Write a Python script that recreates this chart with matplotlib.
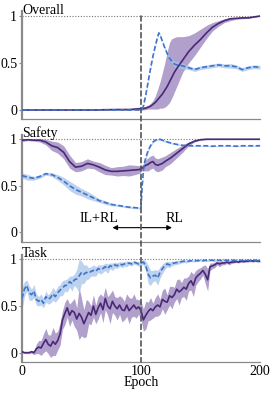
import numpy as np
import matplotlib
matplotlib.use("Agg")
import matplotlib.pyplot as plt
from matplotlib.patches import ConnectionPatch

plt.rcParams['font.family'] = ['Liberation Serif', 'DejaVu Serif']
plt.rcParams['font.size'] = 10

# ---------------- data ----------------
panel_titles = ["Overall", "Safety", "Task"]
ytick_vals = [0, 0.5, 1]
ytick_labels = ["0", "0.5", "1"]
xtick_vals = [0, 100, 200]
xtick_labels = ["0", "100", "200"]
x_label = "Epoch"
left_label = "IL+RL"
right_label = "RL"
switch_epoch = 100

# Overall panel
overall_epochs = [0, 10, 20, 30, 40, 50, 60, 70, 80, 90, 95, 100, 101, 102, 104, 106, 108, 110, 112, 114,
                  115, 116, 118, 120, 122, 124, 126, 128, 130, 135, 140, 145, 150, 155, 160, 165, 170, 175,
                  180, 185, 190, 195, 200]
overall_purple = [0, 0, 0, 0, 0, 0, 0, 0.003, 0.005, 0.005,
                  0.01, 0.015, 0.015, 0.015, 0.02, 0.03, 0.04, 0.06, 0.08, 0.11,
                  0.125, 0.14, 0.17, 0.21, 0.25, 0.30, 0.35, 0.40, 0.44, 0.53,
                  0.62, 0.69, 0.75, 0.82, 0.88, 0.92, 0.95, 0.97, 0.975, 0.98,
                  0.98, 0.99, 1.0]
overall_purple_lo = [-0.005, -0.005, -0.005, -0.005, -0.005, -0.005, -0.005, -0.002, 0.0, 0.0,
                     0.0, 0.0, 0.0, 0.0, 0.005, 0.01, 0.01, 0.01, 0.01, 0.01,
                     0.015, 0.02, 0.02, 0.03, 0.05, 0.08, 0.13, 0.19, 0.25, 0.40,
                     0.50, 0.58, 0.67, 0.76, 0.84, 0.89, 0.93, 0.95, 0.965, 0.97,
                     0.975, 0.985, 0.995]
overall_purple_hi = [0.005, 0.005, 0.005, 0.005, 0.005, 0.005, 0.005, 0.008, 0.01, 0.01,
                     0.02, 0.03, 0.03, 0.03, 0.04, 0.05, 0.07, 0.10, 0.15, 0.22,
                     0.26, 0.30, 0.40, 0.50, 0.62, 0.72, 0.76, 0.77, 0.78, 0.78,
                     0.79, 0.82, 0.86, 0.90, 0.93, 0.95, 0.97, 0.985, 0.985, 0.99,
                     0.99, 0.995, 1.003]
overall_blue = [0, 0, 0, 0, 0, 0, 0, 0, 0, 0,
                0.0, 0.0, 0.01, 0.04, 0.16, 0.30, 0.44, 0.57, 0.68, 0.78,
                0.82, 0.80, 0.73, 0.66, 0.60, 0.55, 0.52, 0.49, 0.48, 0.47,
                0.45, 0.43, 0.45, 0.46, 0.47, 0.48, 0.47, 0.47, 0.46, 0.43,
                0.45, 0.46, 0.455]
overall_blue_hw = [0.005, 0.005, 0.005, 0.005, 0.005, 0.005, 0.005, 0.005, 0.005, 0.005,
                   0.005, 0.005, 0.008, 0.01, 0.01, 0.01, 0.01, 0.01, 0.01, 0.01,
                   0.01, 0.01, 0.01, 0.015, 0.02, 0.02, 0.025, 0.03, 0.035, 0.03,
                   0.02, 0.02, 0.02, 0.02, 0.02, 0.02, 0.02, 0.025, 0.02, 0.02,
                   0.02, 0.02, 0.02]

# Safety panel
safety_epochs = [0, 5, 10, 15, 20, 25, 30, 35, 40, 45, 50, 55, 60, 65, 70, 75, 80, 85, 90, 95,
                 99, 100, 101, 102, 103, 104, 106, 108, 110, 112, 114, 116, 118, 120, 125, 130, 135, 140,
                 145, 150, 155, 160, 165, 170, 175, 180, 185, 190, 195, 200]
safety_purple = [0.99, 0.995, 0.99, 0.99, 0.97, 0.93, 0.91, 0.86, 0.76, 0.70,
                 0.71, 0.74, 0.725, 0.70, 0.67, 0.655, 0.655, 0.66, 0.665, 0.67,
                 0.675, 0.69, 0.69, 0.70, 0.71, 0.72, 0.73, 0.75, 0.76, 0.73,
                 0.72, 0.73, 0.74, 0.76, 0.80, 0.85, 0.90, 0.95, 0.98, 0.995,
                 1.0, 1.0, 1.0, 1.0, 1.0, 1.0, 1.0, 1.0, 1.0, 1.0]
safety_purple_hw = [0.015, 0.01, 0.01, 0.02, 0.03, 0.05, 0.06, 0.07, 0.07, 0.05,
                    0.05, 0.05, 0.04, 0.05, 0.05, 0.04, 0.05, 0.05, 0.06, 0.05,
                    0.04, 0.03, 0.03, 0.04, 0.05, 0.06, 0.07, 0.07, 0.07, 0.07,
                    0.07, 0.07, 0.07, 0.06, 0.06, 0.05, 0.04, 0.02, 0.01, 0.005,
                    0.004, 0.003, 0.003, 0.003, 0.003, 0.003, 0.003, 0.003, 0.003, 0.003]
safety_blue = [0.61, 0.59, 0.58, 0.60, 0.63, 0.62, 0.59, 0.55, 0.50, 0.46,
               0.43, 0.40, 0.37, 0.34, 0.32, 0.30, 0.29, 0.28, 0.27, 0.265,
               0.26, 0.27, 0.50, 0.66, 0.75, 0.80, 0.88, 0.93, 0.97, 0.99,
               1.0, 1.0, 0.99, 0.98, 0.96, 0.945, 0.935, 0.93, 0.93, 0.93,
               0.93, 0.925, 0.93, 0.93, 0.93, 0.925, 0.93, 0.93, 0.93, 0.93]
safety_blue_hw = [0.03, 0.03, 0.02, 0.02, 0.015, 0.02, 0.03, 0.04, 0.05, 0.05,
                  0.04, 0.04, 0.03, 0.02, 0.02, 0.015, 0.01, 0.01, 0.01, 0.01,
                  0.01, 0.01, 0.02, 0.02, 0.02, 0.02, 0.015, 0.01, 0.01, 0.01,
                  0.01, 0.01, 0.01, 0.01, 0.008, 0.006, 0.005, 0.005, 0.005, 0.005,
                  0.005, 0.005, 0.005, 0.005, 0.005, 0.005, 0.005, 0.005, 0.005, 0.005]

# Task panel (every 2 epochs, 0..200)
task_epochs = list(range(0, 201, 2))
task_purple = [0.01, 0.00, 0.00, 0.00, 0.01, 0.00, 0.04, 0.06, 0.05, 0.10,
               0.14, 0.09, 0.07, 0.12, 0.09, 0.13, 0.20, 0.35, 0.42, 0.48,
               0.40, 0.45, 0.43, 0.36, 0.42, 0.38, 0.31, 0.37, 0.43, 0.40,
               0.50, 0.41, 0.48, 0.53, 0.46, 0.58, 0.50, 0.47, 0.55, 0.50,
               0.47, 0.51, 0.46, 0.45, 0.51, 0.45, 0.48, 0.51, 0.47, 0.49,
               0.45, 0.35, 0.40, 0.44, 0.47, 0.45, 0.49, 0.51, 0.49, 0.57,
               0.55, 0.54, 0.61, 0.59, 0.62, 0.68, 0.65, 0.67, 0.70, 0.68,
               0.74, 0.77, 0.72, 0.80, 0.83, 0.85, 0.88, 0.84, 0.78, 0.92,
               0.93, 0.94, 0.96, 0.95, 0.96, 0.96, 0.97, 0.96, 0.97, 0.97,
               0.975, 0.97, 0.98, 0.975, 0.98, 0.98, 0.985, 0.98, 0.985, 0.98,
               0.98]
task_purple_hw = [0.01, 0.01, 0.01, 0.01, 0.015, 0.02, 0.05, 0.07, 0.08, 0.10,
                  0.12, 0.10, 0.12, 0.15, 0.12, 0.10, 0.12, 0.10, 0.12, 0.10,
                  0.12, 0.10, 0.15, 0.12, 0.28, 0.20, 0.15, 0.20, 0.12, 0.10,
                  0.12, 0.10, 0.12, 0.10, 0.14, 0.12, 0.10, 0.16, 0.12, 0.10,
                  0.12, 0.10, 0.13, 0.10, 0.12, 0.14, 0.10, 0.12, 0.10, 0.08,
                  0.10, 0.12, 0.15, 0.10, 0.12, 0.08, 0.10, 0.12, 0.08, 0.10,
                  0.14, 0.08, 0.10, 0.12, 0.08, 0.10, 0.14, 0.08, 0.10, 0.12,
                  0.08, 0.10, 0.12, 0.08, 0.07, 0.06, 0.05, 0.10, 0.12, 0.04,
                  0.03, 0.03, 0.02, 0.03, 0.02, 0.02, 0.015, 0.02, 0.015, 0.01,
                  0.01, 0.01, 0.01, 0.01, 0.01, 0.01, 0.01, 0.01, 0.01, 0.01,
                  0.01]
task_blue = [0.58, 0.68, 0.72, 0.64, 0.62, 0.66, 0.57, 0.55, 0.57, 0.53,
             0.60, 0.57, 0.59, 0.63, 0.60, 0.64, 0.67, 0.69, 0.72, 0.72,
             0.76, 0.74, 0.78, 0.79, 0.82, 0.86, 0.84, 0.86, 0.85, 0.87,
             0.88, 0.87, 0.90, 0.89, 0.90, 0.92, 0.90, 0.93, 0.92, 0.94,
             0.93, 0.95, 0.94, 0.95, 0.95, 0.96, 0.95, 0.97, 0.96, 0.95,
             0.96, 0.97, 0.93, 0.84, 0.80, 0.82, 0.83, 0.80, 0.86, 0.90,
             0.93, 0.95, 0.94, 0.955, 0.96, 0.965, 0.97, 0.975, 0.98, 0.975,
             0.98, 0.985, 0.98, 0.985, 0.985, 0.99, 0.985, 0.99, 0.985, 0.99,
             0.99, 0.985, 0.99, 0.99, 0.985, 0.99, 0.99, 0.985, 0.99, 0.99,
             0.985, 0.99, 0.99, 0.985, 0.99, 0.99, 0.985, 0.99, 0.99, 0.985,
             0.985]
task_blue_hw = [0.12, 0.08, 0.06, 0.08, 0.06, 0.07, 0.06, 0.05, 0.06, 0.05,
                0.06, 0.05, 0.06, 0.07, 0.06, 0.07, 0.06, 0.08, 0.06, 0.07,
                0.06, 0.08, 0.06, 0.10, 0.18, 0.12, 0.10, 0.08, 0.06, 0.05,
                0.06, 0.05, 0.04, 0.05, 0.04, 0.04, 0.05, 0.03, 0.04, 0.03,
                0.03, 0.025, 0.03, 0.025, 0.03, 0.02, 0.025, 0.02, 0.02, 0.025,
                0.02, 0.03, 0.05, 0.10, 0.08, 0.06, 0.06, 0.08, 0.06, 0.05,
                0.04, 0.03, 0.03, 0.025, 0.02, 0.02, 0.02, 0.015, 0.015, 0.015,
                0.01, 0.01, 0.01, 0.01, 0.01, 0.01, 0.01, 0.01, 0.01, 0.01,
                0.01, 0.01, 0.01, 0.01, 0.01, 0.01, 0.01, 0.01, 0.01, 0.01,
                0.01, 0.01, 0.01, 0.01, 0.01, 0.01, 0.01, 0.01, 0.01, 0.01,
                0.01]

# ---------------- style ----------------
PURPLE = "#4a2878"
PURPLE_FILL = "#a38fc2"
BLUE = "#3f74c8"
BLUE_FILL = "#a6c3ea"
SPINE = "#8a8a8a"

W, H = 272, 395
fig = plt.figure(figsize=(W / 100, H / 100), dpi=100)

def frac_rect(top_px, bottom_px, left_px=22, right_px=260):
    return [left_px / W, (H - bottom_px) / H, (right_px - left_px) / W, (bottom_px - top_px) / H]

YLO, YHI = -0.1, 1.05
rects = [frac_rect(11.3, 119.4), frac_rect(134.6, 241.6), frac_rect(254.6, 362.0)]
axes = [fig.add_axes(r) for r in rects]

panels = [
    (overall_epochs,
     overall_purple, overall_purple_lo, overall_purple_hi,
     overall_blue,
     [m - h for m, h in zip(overall_blue, overall_blue_hw)],
     [m + h for m, h in zip(overall_blue, overall_blue_hw)]),
    (safety_epochs,
     safety_purple,
     [m - h for m, h in zip(safety_purple, safety_purple_hw)],
     [m + h for m, h in zip(safety_purple, safety_purple_hw)],
     safety_blue,
     [m - h for m, h in zip(safety_blue, safety_blue_hw)],
     [m + h for m, h in zip(safety_blue, safety_blue_hw)]),
    (task_epochs,
     task_purple,
     [m - h for m, h in zip(task_purple, task_purple_hw)],
     [m + h for m, h in zip(task_purple, task_purple_hw)],
     task_blue,
     [m - h for m, h in zip(task_blue, task_blue_hw)],
     [m + h for m, h in zip(task_blue, task_blue_hw)]),
]

for i, (ax, title, data) in enumerate(zip(axes, panel_titles, panels)):
    ep, pm, plo, phi, bm, blo, bhi = data
    ax.fill_between(ep, plo, phi, color=PURPLE_FILL, alpha=0.85, lw=0, zorder=1)
    ax.fill_between(ep, blo, bhi, color=BLUE_FILL, alpha=0.75, lw=0, zorder=2)
    ax.plot(ep, pm, color=PURPLE, lw=1.2, zorder=3)
    ax.plot(ep, bm, color=BLUE, lw=1.2, ls=(0, (3, 1.5)), zorder=4)
    ax.axhline(1.0, color="#777777", lw=0.8, ls=(0, (1, 1.5)), zorder=0)
    ax.set_xlim(0, 200)
    ax.set_ylim(YLO, YHI)
    for s in ["top", "right"]:
        ax.spines[s].set_visible(False)
    ax.spines["left"].set_color(SPINE)
    ax.spines["left"].set_linewidth(1.6)
    ax.spines["bottom"].set_color(SPINE)
    ax.spines["bottom"].set_linewidth(0.9)
    ax.set_yticks(ytick_vals)
    ax.set_yticklabels(ytick_labels)
    ax.tick_params(axis="y", length=2, width=0.8, color=SPINE, pad=1.5, labelsize=10)
    ax.set_xticks(xtick_vals)
    if i < 2:
        ax.tick_params(axis="x", length=0, labelbottom=False)
    else:
        ax.set_xticklabels(xtick_labels)
        ax.tick_params(axis="x", length=0, pad=2, labelsize=10)
        ax.set_xlabel(x_label, fontsize=10, labelpad=-1)
    ax.text(0, 1.02, title, ha="left", va="baseline", fontsize=10, clip_on=False, zorder=5)
    ax.patch.set_alpha(0)

# arrow in safety panel
ax2 = axes[1]
ax2.annotate("", xy=(76, 0.05), xytext=(126, 0.05),
             arrowprops=dict(arrowstyle="<|-|>", color="black", lw=0.8,
                             mutation_scale=7, shrinkA=0, shrinkB=0))
ax2.text(65, 0.145, left_label, ha="center", va="center", fontsize=10)
ax2.text(128, 0.145, right_label, ha="center", va="center", fontsize=10)

# vertical dashed switch line across all panels
con = ConnectionPatch(xyA=(switch_epoch, 1.0), coordsA=axes[0].transData,
                      xyB=(switch_epoch, YLO), coordsB=axes[2].transData,
                      color="#555555", lw=1.2, ls=(0, (3, 2)), zorder=10)
fig.add_artist(con)

fig.savefig("out.png", dpi=100)
